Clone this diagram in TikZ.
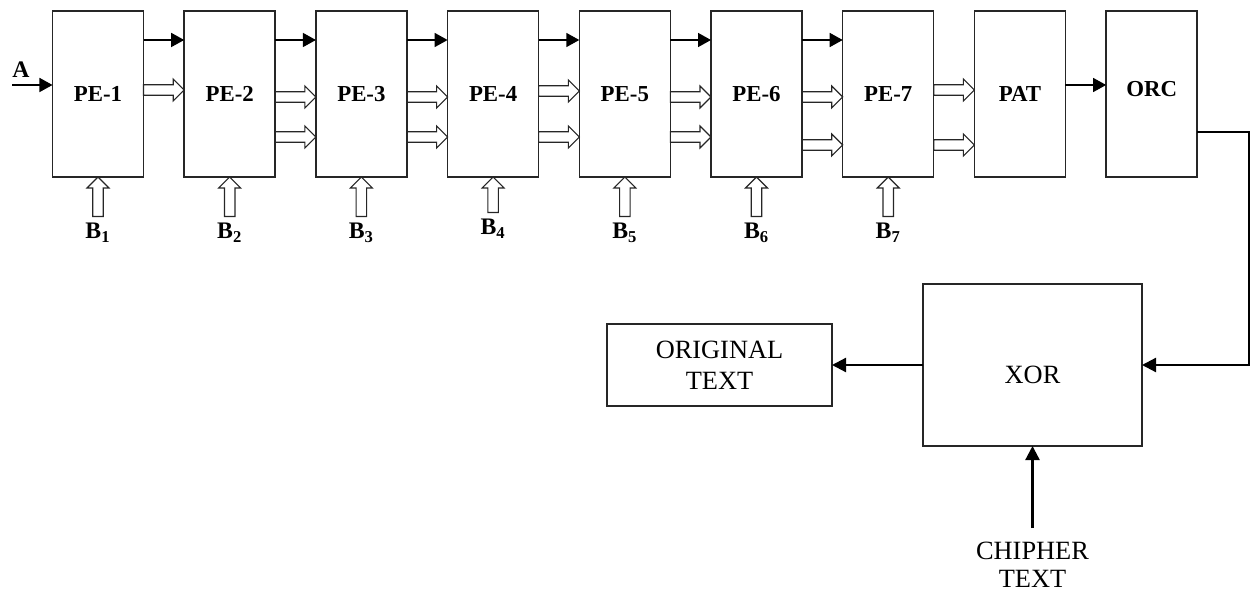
\documentclass[tikz,border=0pt]{standalone}
\usepackage{fontspec}
\setmainfont{Liberation Serif}
\usetikzlibrary{arrows.meta,positioning,calc}

\begin{document}
\begin{tikzpicture}[
  x=0.2mm, y=-0.2mm,
  node distance=8.14mm,
  pe/.style={draw=black!85, line width=0.3mm, outer sep=0pt, minimum width=18.2mm, minimum height=33.2mm, font=\fontsize{13}{15}\selectfont\bfseries},
  blk/.style={draw=black!85, line width=0.3mm, outer sep=0pt, align=center, font=\fontsize{15}{17.6}\selectfont},
  lbl/.style={font=\fontsize{13.5}{15}\selectfont\bfseries},
  arr/.style={-{Triangle[length=2.6mm, width=2.8mm]}, line width=0.3mm},
  arrb/.style={-{Triangle[length=2.8mm, width=2.8mm]}, line width=0.45mm},
  holr/.style={draw=black!85, line width=0.22mm, to path={let \p1=(\tikztostart), \p2=(\tikztotarget) in
    (\x1,\y1+1.05mm) -- (\x2-2.2mm,\y1+1.05mm) -- (\x2-2.2mm,\y1+2.2mm) -- (\x2,\y1) -- (\x2-2.2mm,\y1-2.2mm) -- (\x2-2.2mm,\y1-1.05mm) -- (\x1,\y1-1.05mm) -- cycle}},
  holu/.style={draw=black!85, line width=0.22mm, to path={let \p1=(\tikztostart), \p2=(\tikztotarget) in
    (\x1-1.05mm,\y1) -- (\x1-1.05mm,\y2-2.2mm) -- (\x1-2.2mm,\y2-2.2mm) -- (\x1,\y2) -- (\x1+2.2mm,\y2-2.2mm) -- (\x1+1.05mm,\y2-2.2mm) -- (\x1+1.05mm,\y1) -- cycle}}
]
\useasboundingbox (0,0) rectangle (1256,593);

\node[pe] (pe1) at (98,94) {PE-1};
\node[pe, right=of pe1] (pe2) {PE-2};
\node[pe, right=of pe2] (pe3) {PE-3};
\node[pe, right=of pe3] (pe4) {PE-4};
\node[pe, right=of pe4] (pe5) {PE-5};
\node[pe, right=of pe5] (pe6) {PE-6};
\node[pe, right=of pe6] (pe7) {PE-7};
\node[pe, right=of pe7] (pat) {PAT};
\node[pe, right=of pat, label={[font=\fontsize{13}{15}\selectfont\bfseries, yshift=1mm]center:ORC}] (orc) {};

\node[lbl, below=7.9mm of pe1] (b1) {B\textsubscript{1}};
\node[lbl, below=7.9mm of pe2] (b2) {B\textsubscript{2}};
\node[lbl, below=7.9mm of pe3] (b3) {B\textsubscript{3}};
\node[lbl, below=7.1mm of pe4] (b4) {B\textsubscript{4}};
\node[lbl, below=7.9mm of pe5] (b5) {B\textsubscript{5}};
\node[lbl, below=7.9mm of pe6] (b6) {B\textsubscript{6}};
\node[lbl, below=7.9mm of pe7] (b7) {B\textsubscript{7}};

\coordinate (ain) at (12,85);
\node[lbl, anchor=south west, inner sep=0pt] (a) at ([yshift=1.4mm]ain) {A};

\node[blk, minimum width=43.8mm, minimum height=32.4mm, label={[font=\fontsize{15}{17.6}\selectfont, yshift=-2mm]center:XOR}] (xor) at (1032.5,365) {};
\node[blk, minimum width=45mm, minimum height=16.4mm, left=18.2mm of xor] (orig) {ORIGINAL\\TEXT};
\node[align=center, font=\fontsize{15}{15.9}\selectfont, below=18mm of xor] (chip) {CHIPHER\\TEXT};

\draw[arr] (ain) -- (ain -| pe1.west);
\draw[arr] ([yshift=-5.8mm]pe1.north east) -- ([yshift=-5.8mm]pe2.north west);
\draw[arr] ([yshift=-5.8mm]pe2.north east) -- ([yshift=-5.8mm]pe3.north west);
\draw[arr] ([yshift=-5.8mm]pe3.north east) -- ([yshift=-5.8mm]pe4.north west);
\draw[arr] ([yshift=-5.8mm]pe4.north east) -- ([yshift=-5.8mm]pe5.north west);
\draw[arr] ([yshift=-5.8mm]pe5.north east) -- ([yshift=-5.8mm]pe6.north west);
\draw[arr] ([yshift=-5.8mm]pe6.north east) -- ([yshift=-5.8mm]pe7.north west);
\draw[arr] ([yshift=-14.8mm]pat.north east) -- ([yshift=-14.8mm]orc.north west);

\draw[holr] ([yshift=-15.8mm]pe1.north east) to ([yshift=-15.8mm]pe2.north west);
\draw[holr] ([yshift=-17.2mm]pe2.north east) to ([yshift=-17.2mm]pe3.north west);
\draw[holr] ([yshift=-25.2mm]pe2.north east) to ([yshift=-25.2mm]pe3.north west);
\draw[holr] ([yshift=-17.2mm]pe3.north east) to ([yshift=-17.2mm]pe4.north west);
\draw[holr] ([yshift=-25.2mm]pe3.north east) to ([yshift=-25.2mm]pe4.north west);
\draw[holr] ([yshift=-16mm]pe4.north east) to ([yshift=-16mm]pe5.north west);
\draw[holr] ([yshift=-25.2mm]pe4.north east) to ([yshift=-25.2mm]pe5.north west);
\draw[holr] ([yshift=-17.2mm]pe5.north east) to ([yshift=-17.2mm]pe6.north west);
\draw[holr] ([yshift=-25.2mm]pe5.north east) to ([yshift=-25.2mm]pe6.north west);
\draw[holr] ([yshift=-17.2mm]pe6.north east) to ([yshift=-17.2mm]pe7.north west);
\draw[holr] ([yshift=-26.8mm]pe6.north east) to ([yshift=-26.8mm]pe7.north west);
\draw[holr] ([yshift=-15.8mm]pe7.north east) to ([yshift=-15.8mm]pat.north west);
\draw[holr] ([yshift=-26.8mm]pe7.north east) to ([yshift=-26.8mm]pat.north west);

\draw[holu] (b1.north) to (pe1.south);
\draw[holu] (b2.north) to (pe2.south);
\draw[holu] (b3.north) to (pe3.south);
\draw[holu] (b4.north) to (pe4.south);
\draw[holu] (b5.north) to (pe5.south);
\draw[holu] (b6.north) to (pe6.south);
\draw[holu] (b7.north) to (pe7.south);

\draw[arrb] ([yshift=-24.2mm]orc.north east) -- ++(10.4mm,0) |- (xor.east);
\draw[arrb] (xor.west) -- (orig.east);
\draw[arrb] ([yshift=1.6mm]chip.north) -- (xor.south);
\end{tikzpicture}
\end{document}
